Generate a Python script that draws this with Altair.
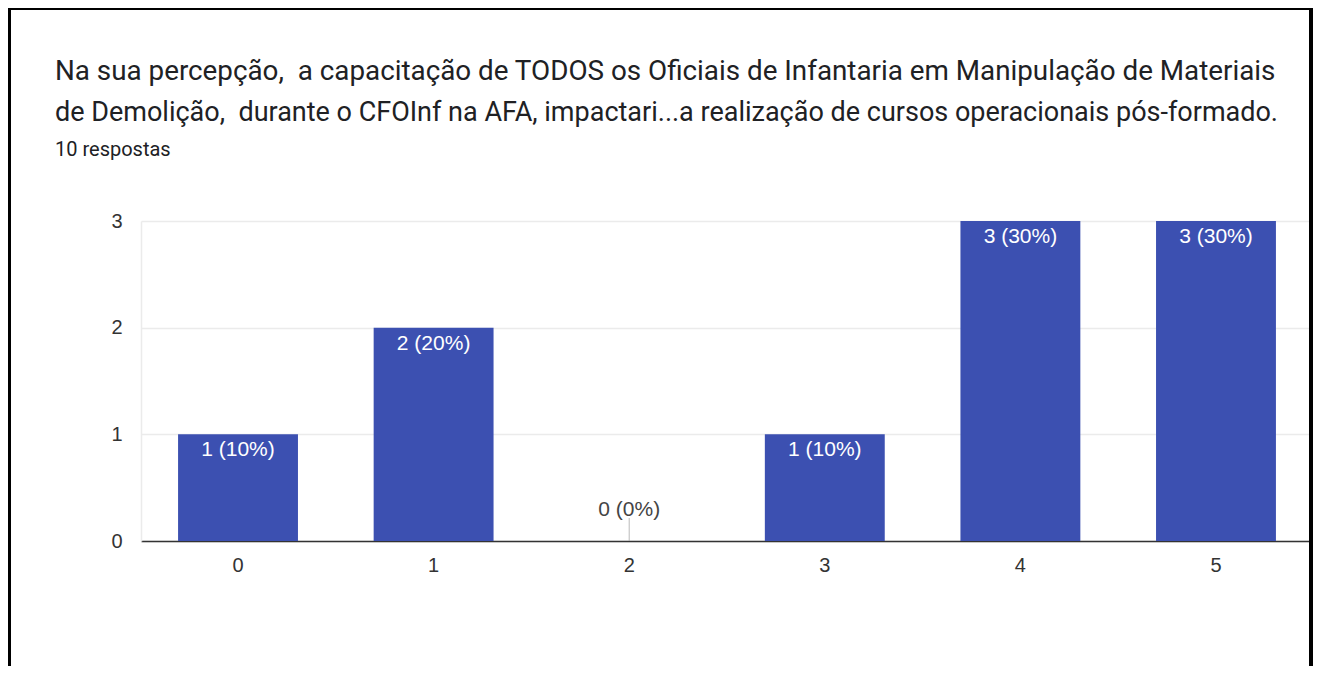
import altair as alt
import pandas as pd

# ---- data ----
categories = ["0", "1", "2", "3", "4", "5"]
counts = [1, 2, 0, 1, 3, 3]
bar_labels = ["1 (10%)", "2 (20%)", "0 (0%)", "1 (10%)", "3 (30%)", "3 (30%)"]
y_ticks = [0, 0.5, 1, 1.5, 2, 2.5, 3]

title_line1 = "Na sua percepção,\u00a0 a capacitação de TODOS os Oficiais de Infantaria em Manipulação de Materiais"
title_line2 = "de Demolição,\u00a0 durante o CFOInf na AFA, impactari...a realização de cursos operacionais pós-formado."
subtitle = "10 respostas"

df = pd.DataFrame({"cat": categories, "count": counts, "label": bar_labels})

BAR = "#3c50b1"
W, H = 1172, 320

x_enc = alt.X(
    "cat:N",
    sort=categories,
    scale=alt.Scale(paddingInner=0.387, paddingOuter=0.1895),
    axis=alt.Axis(
        title=None, labelAngle=0, ticks=False, domainColor="#333333",
        domainWidth=1.5, labelFont="Arial", labelFontSize=20,
        labelColor="#333333", labelPadding=14, grid=False,
    ),
)
y_enc = alt.Y(
    "count:Q",
    scale=alt.Scale(domain=[0, 3], nice=False),
    axis=alt.Axis(
        title=None, values=y_ticks, format="d",
        labelExpr="datum.value % 1 == 0 ? datum.label : ''",
        ticks=False, domain=True, domainColor="#ebebeb", domainWidth=1.5,
        gridColor="#ebebeb", gridWidth=1.5, labelFont="Arial",
        labelFontSize=20, labelColor="#333333", labelPadding=19,
    ),
)

base = alt.Chart(df)

bars = base.mark_bar(color=BAR).encode(x=x_enc, y=y_enc)

inner = base.transform_filter("datum.count > 0").mark_text(
    baseline="top", dy=5, color="white", font="Arial", fontSize=21
).encode(x=alt.X("cat:N", sort=categories), y="count:Q", text="label:N")

zero_txt = base.transform_filter("datum.count == 0").mark_text(
    baseline="alphabetic", dy=-25, color="#444444", font="Arial", fontSize=21
).encode(x=alt.X("cat:N", sort=categories), y="count:Q", text="label:N")

zero_stem = base.transform_filter("datum.count == 0").mark_tick(
    orient="vertical", size=23, yOffset=-11.5, thickness=1, color="#9e9e9e"
).encode(x=alt.X("cat:N", sort=categories), y="count:Q")

one = pd.DataFrame({"a": [0]})

def txt(s, y, size):
    return alt.Chart(one).mark_text(
        text=s, align="left", baseline="alphabetic", font="Roboto",
        fontSize=size, color="#202124"
    ).encode(x=alt.value(-86), y=alt.value(y))

t1 = txt(title_line1, -141, 27.8)
t2 = txt(title_line2, -100, 27.0)
st = txt(subtitle, -65, 20)

def frame(x, x2, y, y2):
    return alt.Chart(one).mark_rect(color="black").encode(
        x=alt.value(x), x2=alt.value(x2), y=alt.value(y), y2=alt.value(y2)
    )

top_b = frame(-133, 1172, -213, -211)
left_b = frame(-133, -130, -213, 445)
right_b = frame(1168, 1172, -213, 445)

chart = alt.layer(
    bars, inner, zero_txt, zero_stem, t1, t2, st, top_b, left_b, right_b
).properties(
    width=W, height=H,
    autosize=alt.AutoSizeParams(type="none"),
    padding={"left": 133, "top": 213, "right": 0, "bottom": 125},
    background="white",
).configure_view(stroke=None)

chart.save("out.html", embed_options={"renderer": "svg", "actions": False})
